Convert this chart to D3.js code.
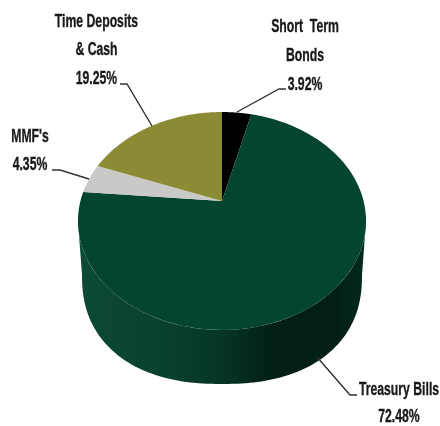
<!DOCTYPE html>
<html>
<head>
<meta charset="utf-8">
<script src="https://cdn.jsdelivr.net/npm/d3@7"></script>
<style>
html, body { margin: 0; padding: 0; background: #fff; }
svg { display: block; }
text { font-family: "Liberation Sans", sans-serif; font-weight: bold; font-size: 18px; fill: #1a1a1a; stroke: #1a1a1a; stroke-width: 0.35px; text-anchor: middle; }
</style>
</head>
<body>
<script>
var w = 440;
var h = 426;

// slices, clockwise from 12 o'clock
var categories = ["Short Term Bonds", "Treasury Bills", "MMF's", "Time Deposits & Cash"];
var values = [3.92, 72.48, 4.35, 19.25];
var colors = ["#000000", "#04452f", "#c9c9c7", "#8b8b36"];

// label text, one line per row
var labelLines = [
    ["Short \u00a0Term", "Bonds", "3.92%"],
    ["Treasury Bills", "72.48%"],
    ["MMF's", "4.35%"],
    ["Time Deposits", "& Cash", "19.25%"]
];
var labelX = [305, 399, 30, 96.5];
var labelY = [32, 395, 142, 27];
var labelGap = [29, 27.5, 28.5, 28.5];
var leaders = [
    [[286, 89], [279, 89], [237, 112]],
    [[357, 395], [350, 395], [317, 357]],
    [[52, 170], [60, 170], [89, 179]],
    [[120, 84], [127, 84], [152, 126]]
];

var cx = 222, cy = 201;
var a = 141.6, b = 105.3, k = 0.1835;

// the pie is tilted with perspective, so the middle sits above the ellipse centre
var project = function(t) {
    var u = Math.sin(t), v = -Math.cos(t);
    var d = 1 - k * v;
    return [cx + a * u / d, cy + b * v / d];
};

var svg = d3.select("body")
    .append("svg")
    .attr("width", w)
    .attr("height", h);

var defs = svg.append("defs");
var grad = defs.append("linearGradient")
    .attr("id", "wall")
    .attr("gradientUnits", "userSpaceOnUse")
    .attr("x1", 78).attr("x2", 366).attr("y1", 0).attr("y2", 0);
[[0, "#0c4a34"], [0.3, "#09412d"], [0.5, "#063524"], [0.68, "#021f15"], [0.9, "#021f17"], [1, "#042a1e"]].forEach(function(s) {
    grad.append("stop").attr("offset", s[0]).attr("stop-color", s[1]);
});
defs.append("filter").attr("id", "soft")
    .append("feGaussianBlur").attr("stdDeviation", 0.4);

var pie = d3.pie().sort(null);
var slices = pie(values);
var line = d3.line();

// side wall: top rim between the ellipse extremes, then a rounded lower rim
var steps = d3.range(0, 121).map(function(i) { return i / 120; });
var wallStart = Math.PI * 0.559, wallEnd = Math.PI * 1.441;
var rim = steps.map(function(s) { return project(wallStart + (wallEnd - wallStart) * s); });
var bottomRim = steps.map(function(s) {
    var t = Math.PI * s;
    return [222 - 140 * Math.sign(Math.cos(t)) * Math.pow(Math.abs(Math.cos(t)), 2 / 2.3),
            275 + 109 * Math.pow(Math.sin(t), 2 / 2.3)];
});

svg.append("path")
    .attr("d", line(rim.concat(bottomRim)) + "Z")
    .attr("fill", "url(#wall)");

// top face
svg.selectAll("path.slice")
    .data(slices)
    .enter()
    .append("path")
    .attr("class", "slice")
    .attr("d", function(d) {
        var pts = d3.range(0, 91).map(function(i) {
            return project(d.startAngle + (d.endAngle - d.startAngle) * i / 90);
        });
        return line([[cx, cy]].concat(pts)) + "Z";
    })
    .attr("fill", function(d, i) { return colors[i]; });

svg.selectAll("path.leader")
    .data(leaders)
    .enter()
    .append("path")
    .attr("class", "leader")
    .attr("d", function(d) { return line(d); })
    .attr("fill", "none")
    .attr("stroke", "#333")
    .attr("stroke-width", 1.4);

var labels = svg.selectAll("g.label")
    .data(labelLines)
    .enter()
    .append("g")
    .attr("class", "label")
    .attr("filter", "url(#soft)")
    .attr("transform", function(d, i) { return "translate(" + labelX[i] + "," + labelY[i] + ") scale(0.68,1)"; });

labels.each(function(rows, i) {
    d3.select(this).selectAll("text")
        .data(rows)
        .enter()
        .append("text")
        .attr("y", function(d, j) { return j * labelGap[i]; })
        .text(function(d) { return d; });
});
</script>
</body>
</html>
